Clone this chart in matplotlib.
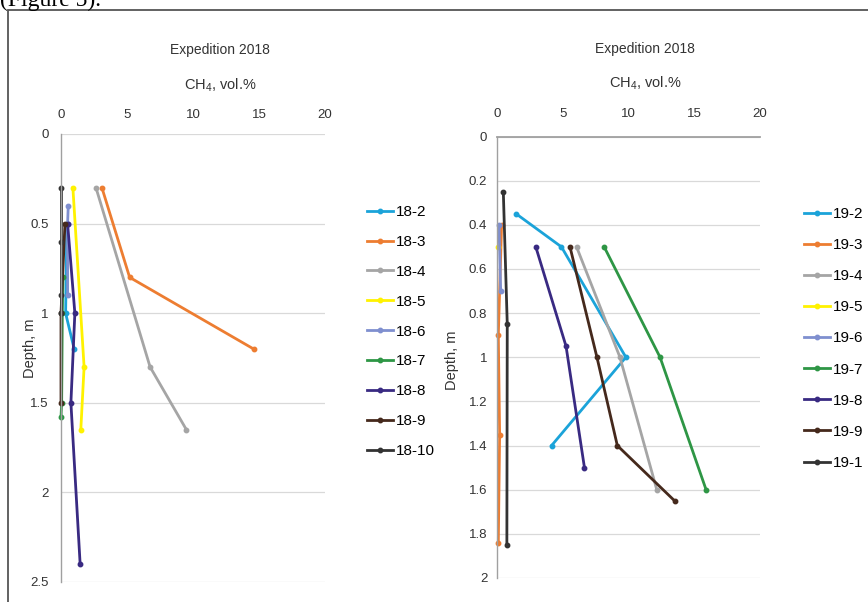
import matplotlib
matplotlib.use('Agg')
from matplotlib import pyplot as plt
from matplotlib.patches import Rectangle

plt.rcParams['font.family'] = ['Liberation Sans', 'DejaVu Sans']
plt.rcParams['mathtext.default'] = 'regular'

# экспедиция 2018, левая панель
names_18 = ['18-2', '18-3', '18-4', '18-5', '18-6', '18-7', '18-8', '18-9', '18-10']
depth_18 = [
    [0.5, 1.0, 1.2],
    [0.3, 0.8, 1.2],
    [0.3, 1.3, 1.65],
    [0.3, 1.3, 1.65],
    [0.4, 0.5, 0.9],
    [0.8, 1.0, 1.5, 1.58],
    [0.5, 1.0, 1.5, 2.4],
    [0.5, 1.0, 1.5],
    [0.3, 0.6, 0.9, 1.0],
]
ch4_18 = [
    [0.45, 0.35, 1.0],
    [3.1, 5.2, 14.6],
    [2.65, 6.75, 9.5],
    [0.9, 1.75, 1.5],
    [0.55, 0.5, 0.5],
    [0.15, 0.1, 0.05, 0.0],
    [0.5, 1.05, 0.75, 1.45],
    [0.3, 0.0, 0.0],
    [0.0, 0.0, 0.0, 0.0],
]

# правая панель
names_19 = ['19-2', '19-3', '19-4', '19-5', '19-6', '19-7', '19-8', '19-9', '19-1']
depth_19 = [
    [0.35, 0.5, 1.0, 1.4],
    [0.4, 0.9, 1.35, 1.84],
    [0.5, 1.0, 1.6],
    [0.5],
    [0.4, 0.7],
    [0.5, 1.0, 1.6],
    [0.5, 0.95, 1.5],
    [0.5, 1.0, 1.4, 1.65],
    [0.25, 0.85, 1.85],
]
ch4_19 = [
    [1.45, 4.9, 9.8, 4.15],
    [0.35, 0.1, 0.2, 0.1],
    [6.05, 9.35, 12.15],
    [0.1],
    [0.15, 0.28],
    [8.15, 12.4, 15.9],
    [2.95, 5.25, 6.65],
    [5.55, 7.6, 9.15, 13.5],
    [0.48, 0.78, 0.75],
]

colors = ['#1ba3d9', '#ed7d31', '#a5a5a5', '#fff200', '#7f8fcf',
          '#2e9645', '#392a82', '#45291c', '#333333']

fig = plt.figure(figsize=(8.68, 6.02), dpi=100)
W, H = 868, 602


def px_axes(x0, y0, x1, y1):
    return fig.add_axes([x0 / W, 1 - y1 / H, (x1 - x0) / W, (y1 - y0) / H])


def style(ax, ymax, step, xpad, ypad, top_line):
    ax.set_xlim(0, 20)
    ax.set_ylim(ymax, 0)
    ax.set_xticks([0, 5, 10, 15, 20])
    ax.set_yticks([round(i * step, 2) for i in range(int(round(ymax / step)) + 1)])
    ax.yaxis.set_major_formatter(matplotlib.ticker.FormatStrFormatter('%g'))
    ax.xaxis.tick_top()
    ax.tick_params(axis='x', length=0, pad=xpad, labelsize=9.5, colors='#333333')
    ax.tick_params(axis='y', length=0, pad=ypad, labelsize=9.5, colors='#333333')
    ax.grid(axis='y', color='#d9d9d9', lw=0.9)
    for s in ['right', 'bottom']:
        ax.spines[s].set_visible(False)
    ax.spines['top'].set_visible(top_line)
    ax.spines['top'].set_color('#a0a0a0')
    ax.spines['top'].set_linewidth(1.3)
    ax.spines['left'].set_color('#a0a0a0')
    ax.spines['left'].set_linewidth(1.0)
    ax.set_axisbelow(True)
    ax.patch.set_alpha(0)


ax1 = px_axes(61, 134, 325, 582)
ax2 = px_axes(497, 136.5, 760, 578)
style(ax1, 2.5, 0.5, 9, 9, False)
style(ax2, 2.0, 0.2, 12, 7, True)

for ax, names, depth, ch4 in [(ax1, names_18, depth_18, ch4_18),
                              (ax2, names_19, depth_19, ch4_19)]:
    for name, d, c, col in zip(names, depth, ch4, colors):
        ax.plot(c, d, color=col, lw=2.0, marker='o', markersize=3.2,
                label=name, clip_on=False)

leg_kw = dict(frameon=False, fontsize=11, handlelength=1.7, handletextpad=0.2,
              borderpad=0, borderaxespad=0, loc='upper left')
ax1.legend(bbox_to_anchor=(367 / W, 1 - 205 / H), bbox_transform=fig.transFigure,
           labelspacing=1.04, **leg_kw)
ax2.legend(bbox_to_anchor=(804 / W, 1 - 207 / H), bbox_transform=fig.transFigure,
           labelspacing=1.12, **leg_kw)

# заголовки
for cx, y1, y2 in [(220, 50, 85), (645, 49, 83)]:
    fig.text(cx / W, 1 - y1 / H, 'Expedition 2018', ha='center', va='center',
             fontsize=10, color='#333333')
    fig.text(cx / W, 1 - y2 / H, 'CH$_4$, vol.%', ha='center', va='center',
             fontsize=10.5, color='#333333')

fig.text(30 / W, 1 - 348 / H, 'Depth, m', rotation=90, ha='center', va='center',
         fontsize=10.5, color='#333333')
fig.text(452 / W, 1 - 360 / H, 'Depth, m', rotation=90, ha='center', va='center',
         fontsize=10.5, color='#333333')

# рамка и обрезанная подпись сверху
fig.patches.append(Rectangle((8 / W, -0.05), 1.1, 1 - 10 / H + 0.05,
                             transform=fig.transFigure, fill=False,
                             edgecolor='#555555', lw=1.3))
fig.text(0.0, 1 - 6 / H, '(Figure 5).', family=['Liberation Serif', 'DejaVu Serif'],
         fontsize=17, ha='left', va='baseline', color='black')

fig.savefig('out.png', dpi=100)
